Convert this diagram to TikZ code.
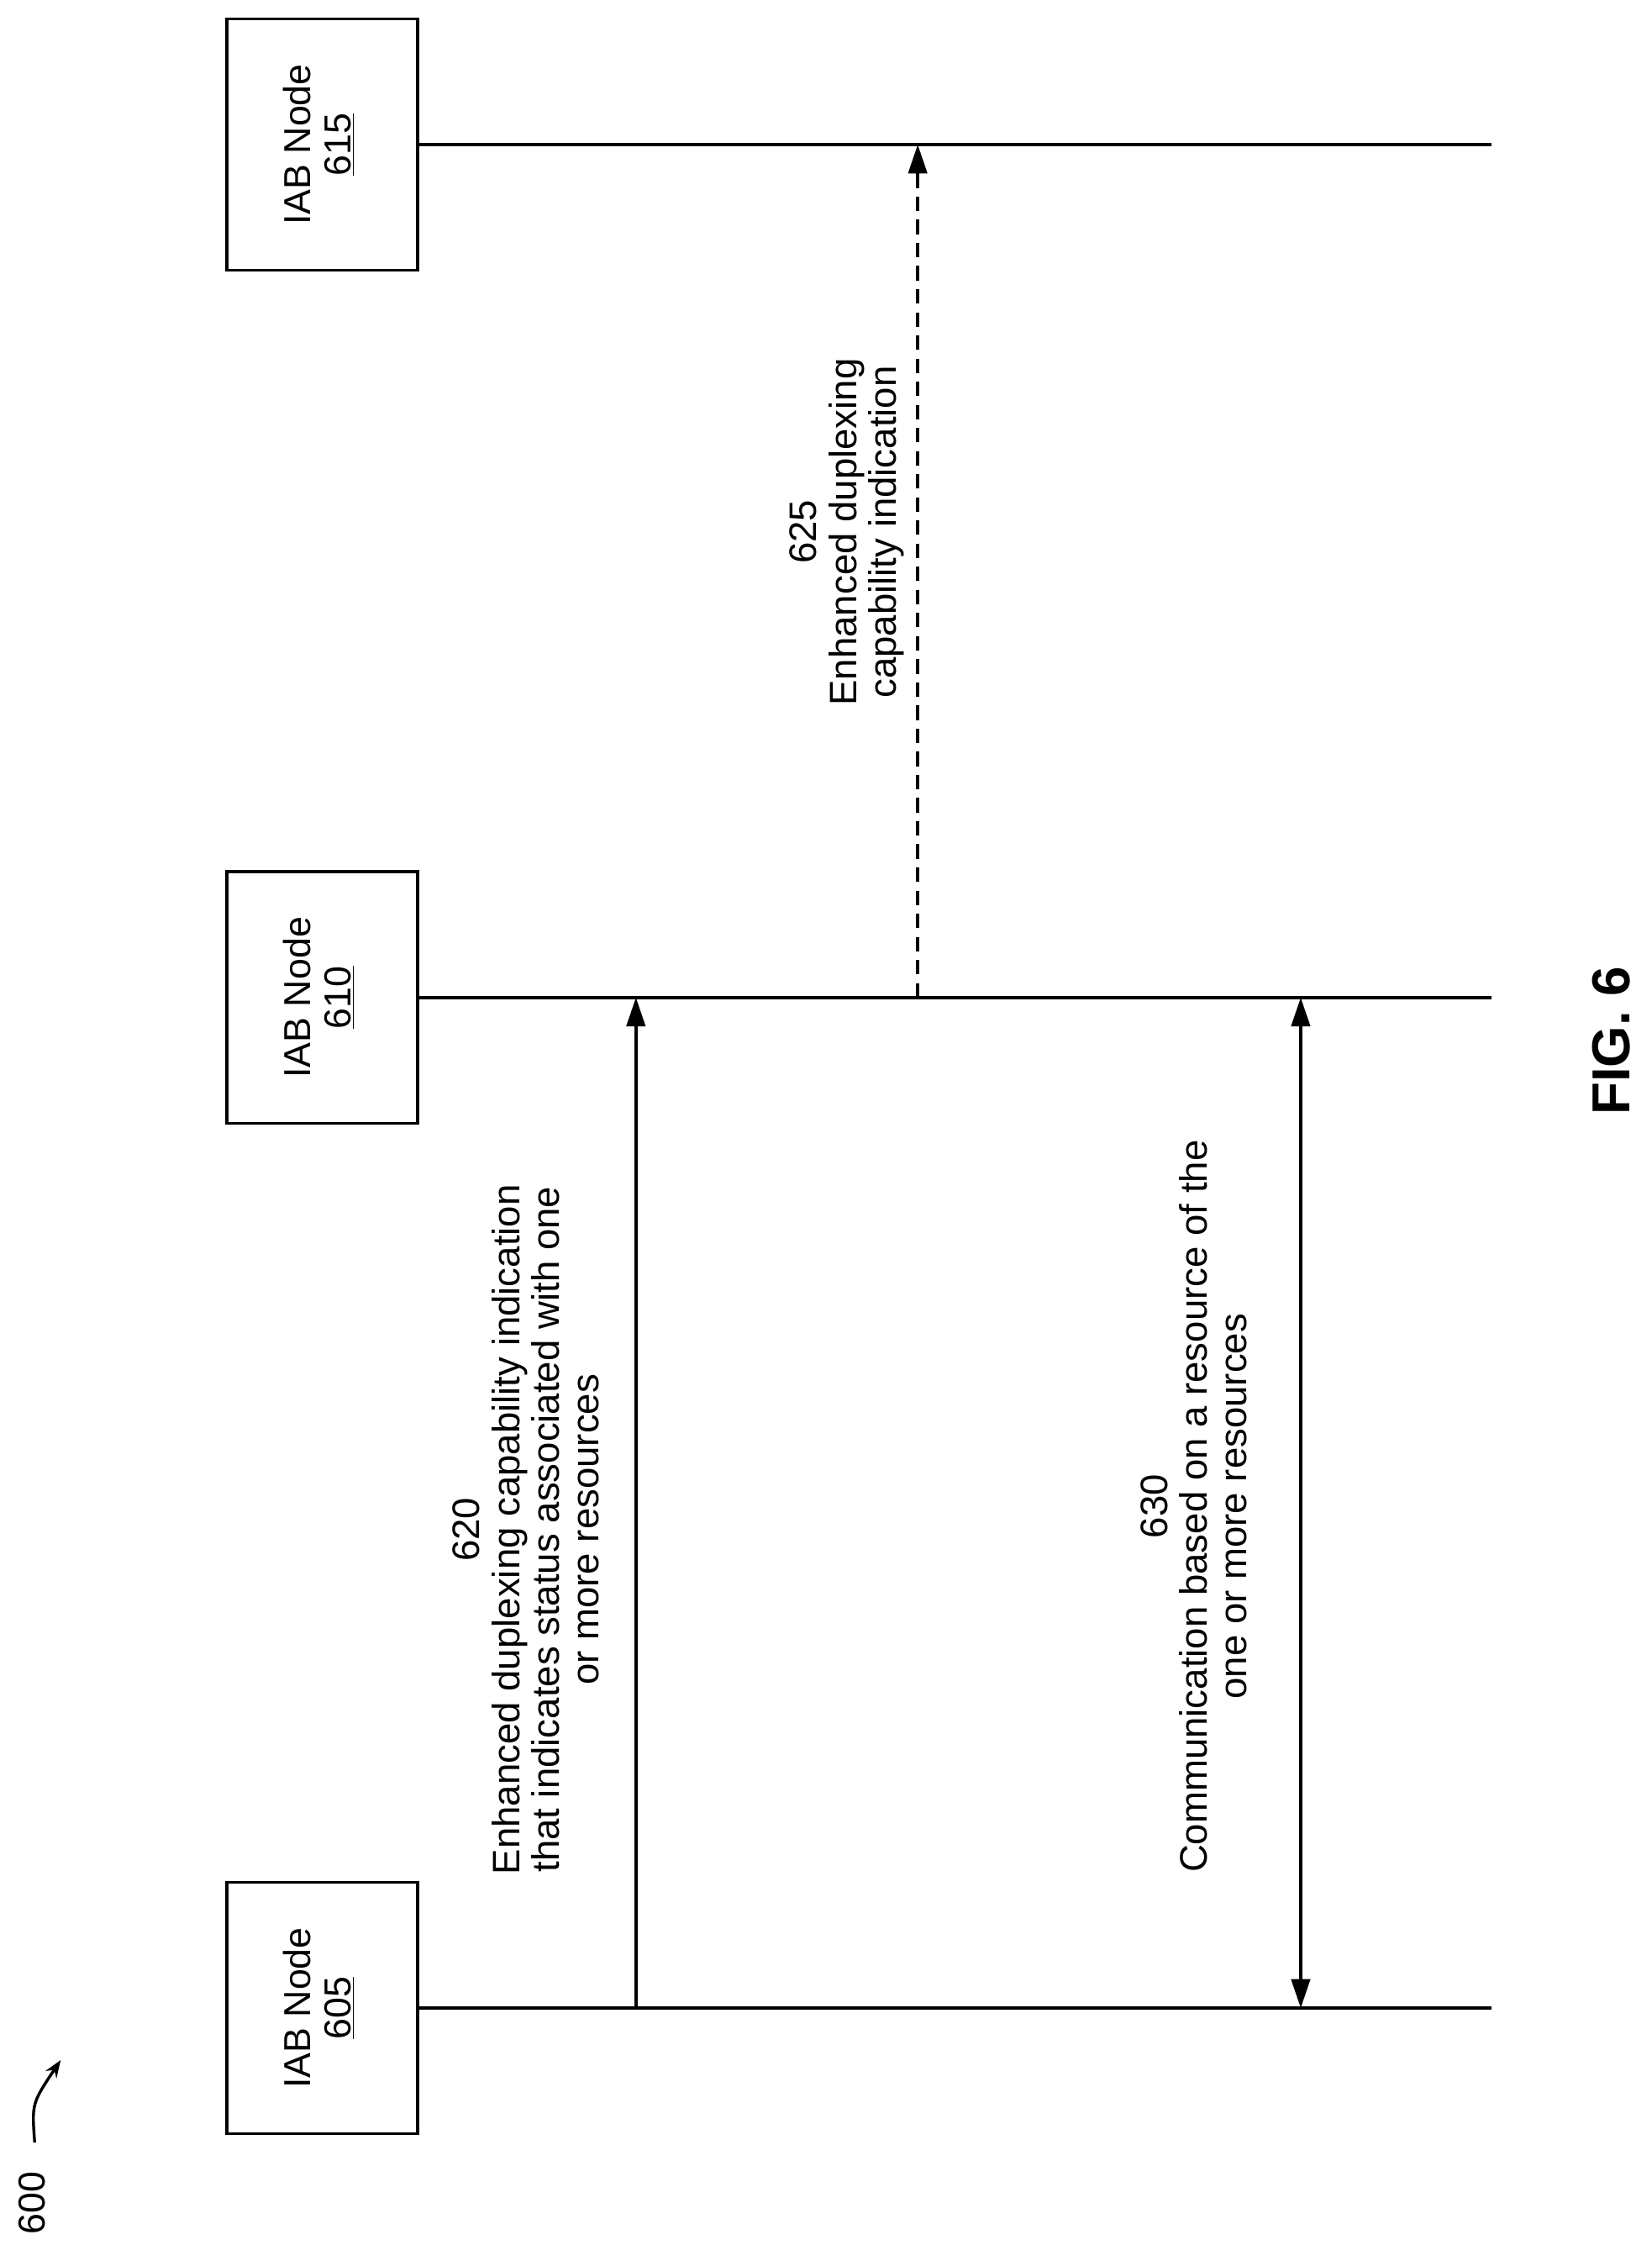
\documentclass[tikz,border=0pt]{standalone}
\usepackage{fontspec}
\setmainfont{Liberation Sans}
\usetikzlibrary{arrows.meta}
\begin{document}
\begin{tikzpicture}[x=1pt,y=-1pt,line width=2pt,
  box/.style={draw,minimum width=132pt,minimum height=174pt,inner sep=0pt,font=\fontsize{26}{28}\selectfont},
  lbl/.style={rotate=90,align=center,font=\fontsize{26.5}{27.5}\selectfont},
  arr/.style={-{Triangle[length=20pt,width=13pt]}}]
\useasboundingbox (0,0) rectangle (1143,1564);
\newcommand{\boxtext}[1]{\rotatebox{90}{\begin{tabular}{@{}c@{}}IAB Node\\\underline{#1}\end{tabular}}}
\node[box] (b615) at (223,100) {\boxtext{615}};
\node[box] (b610) at (223,690) {\boxtext{610}};
\node[box] (b605) at (223,1389) {\boxtext{605}};
\coordinate (e615) at (1032,100);
\coordinate (e610) at (1032,690);
\coordinate (e605) at (1032,1389);
\draw (b615.east) -- (e615);
\draw (b610.east) -- (e610);
\draw (b605.east) -- (e605);
\coordinate (a1) at (440,1389); \coordinate (a2) at (440,690);
\draw[arr] (a1) -- (a2);
\coordinate (c1) at (635,690); \coordinate (c2) at (635,100);
\draw[arr,dash pattern=on 10pt off 6pt] (c1) -- (c2);
\coordinate (d1) at (900,690); \coordinate (d2) at (900,1389);
\draw[{Triangle[length=20pt,width=13pt]}-{Triangle[length=20pt,width=13pt]}] (d1) -- (d2);
\node[lbl] (l620) at (364,1058) {620\\Enhanced duplexing capability indication\\that indicates status associated with one\\or more resources};
\node[lbl] (l625) at (586,368) {625\\Enhanced duplexing\\capability indication};
\node[lbl] (l630) at (826,1042) {630\\Communication based on a resource of the\\one or more resources};
\node[rotate=90,font=\bfseries\fontsize{37}{42}\selectfont] (fig) at (1115,720) {FIG. 6};
\node[rotate=90,font=\fontsize{26}{28}\selectfont] (n600) at (22,1524) {600};
\coordinate (p1) at (24,1482);
\coordinate (p2) at (42,1425);
\draw[-{Stealth[length=12pt,width=9pt]}] (p1) .. controls (22,1455) .. (p2);
\end{tikzpicture}
\end{document}
